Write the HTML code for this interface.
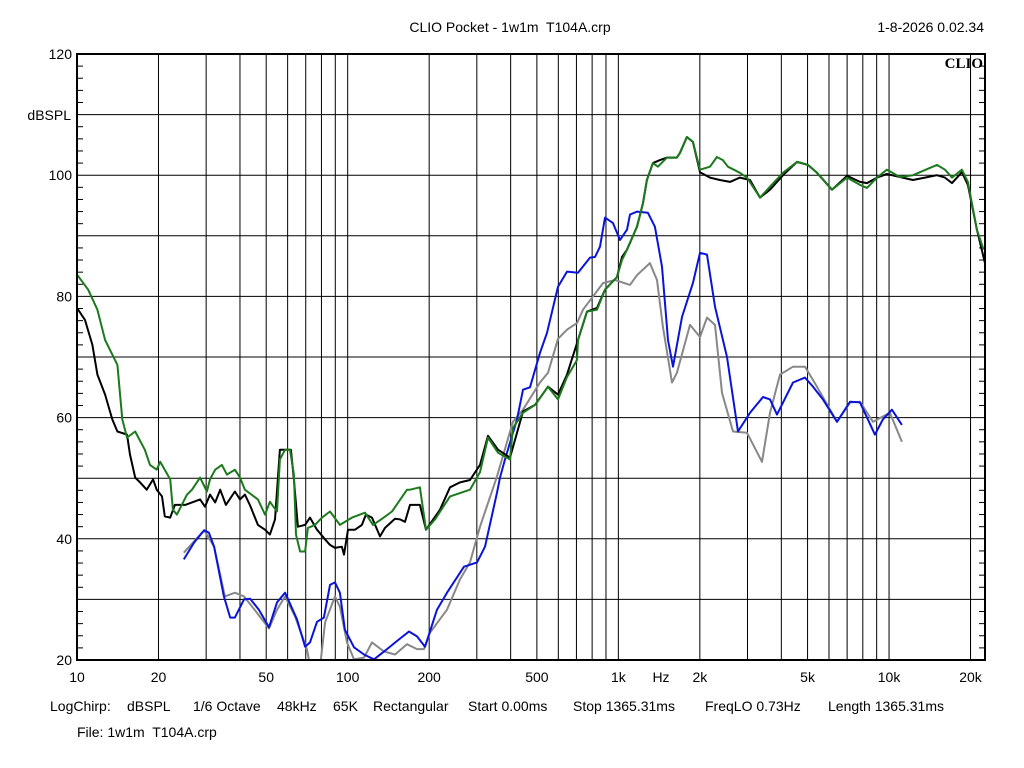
<!DOCTYPE html>
<html><head><meta charset="utf-8"><style>
html,body{margin:0;padding:0;background:#fff;}
svg{display:block;font-family:"Liberation Sans",Arial,sans-serif;}
</style></head><body>
<svg id="chart" width="1024" height="768" viewBox="0 0 1024 768" xmlns="http://www.w3.org/2000/svg">
<rect x="0" y="0" width="1024" height="768" fill="#fff"/>
<text x="510" y="32" font-size="14" text-anchor="middle" xml:space="preserve">CLIO Pocket - 1w1m  T104A.crp</text>
<text x="984" y="32" font-size="14" text-anchor="end">1-8-2026 0.02.34</text>
<g id="grid"></g>
<g id="series" clip-path="url(#plotclip)"></g>
<defs><clipPath id="plotclip"><rect x="77" y="54" width="908" height="606"/></clipPath></defs>
<rect x="77" y="54" width="908" height="606" fill="none" stroke="#000" stroke-width="2"/>
<text x="983" y="68" font-size="15" font-weight="bold" text-anchor="end" font-family="Liberation Serif,serif">CLIO</text>
<text x="71" y="120" font-size="14" text-anchor="end">dBSPL</text>
<text x="661" y="682" font-size="14" text-anchor="middle">Hz</text>
<text y="711" font-size="14"><tspan x="50">LogChirp:</tspan><tspan x="127">dBSPL</tspan><tspan x="193">1/6 Octave</tspan><tspan x="277">48kHz</tspan><tspan x="333">65K</tspan><tspan x="373">Rectangular</tspan><tspan x="468">Start 0.00ms</tspan><tspan x="573">Stop 1365.31ms</tspan><tspan x="705">FreqLO 0.73Hz</tspan><tspan x="828">Length 1365.31ms</tspan></text>
<text x="77" y="737" font-size="14" xml:space="preserve">File: 1w1m  T104A.crp</text>
</svg>
<script>
const greenF=[10,11,11.9,12.7,13.5,14.1,14.7,15.3,16.4,17.8,18.6,19.7,20.3,22.1,22.6,23.4,25.5,26.6,28.5,30.2,31,32.4,34.3,35.8,38.3,40,41.7,46.6,49.5,51.6,54.8,56.2,58.7,61.2,63.3,64.4,66.7,69.6,71.3,75.7,80.4,86,93.6,103.7,115.9,124,133.9,145.8,165.6,169.9,184.9,194.7,210.2,238.8,283.1,308.3,329.9,359.2,397.8,407.9,444.3,491.9,549.6,598.4,645.9,703.4,709.5,765.6,833.6,892.4,988.1,1031,1076,1172,1233,1275,1342,1400,1512,1646,1689,1792,1886,2002,2180,2313,2434,2540,2813,2987,3336,3631,4057,4569,5016,5416,6153,6993,7808,8287,9023,9822,10970,12250,15030,16090,17080,18590,19560,21120,22230,22620];
const greenDB=[83.6,81.1,77.8,72.8,70.4,68.7,59.7,56.7,57.7,54.7,52.2,51.4,52.7,49.8,44.8,44,47.3,48.1,50.1,47.8,49.8,51.4,52.2,50.6,51.4,50.1,48.1,46.5,44,46.1,44.5,53.1,54.7,54.7,50.6,40.7,37.9,37.9,41.8,42.3,43.5,44.5,42.3,43.5,44.3,42.3,43.3,44.5,48.1,48.1,48.5,41.5,43.2,47,48.1,51,56.7,54.2,53.1,58.3,60.8,62.1,65.1,63,66.7,69.5,72.8,77.5,77.8,81.1,83.2,86,87.7,91.5,95.4,99.2,102,101.4,102.9,102.9,103.7,106.3,105.5,100.9,101.4,103,102.5,101.4,100.4,99.6,96.3,98.1,100.4,102.2,101.7,100.4,97.6,99.6,98.4,97.9,99.6,100.9,99.7,100,101.7,100.9,99.6,100.9,98.9,91,88,87.7];
const blackF=[10,10.7,11.4,11.9,12.7,13.5,14.1,15.3,15.7,16.4,17.1,18.1,19.1,19.7,20.6,21.1,22.1,23,25.1,28.5,29.7,31,32.4,33.8,35.5,38.3,40,41.7,43.6,46.6,49.5,51.6,53.9,56.2,61.7,63.3,65.5,69.6,72.6,77,82.5,86,89.8,95.2,96.9,100.3,106.4,112.9,116.8,123,131.6,137.4,149.6,156.1,162.8,169.9,184.9,194.7,219.3,238.8,260,283.1,308.3,329.9,359.2,397.8,444.3,491.9,549.6,598.4,645.9,709.5,765.6,833.6,892.4,988.1,1031,1076,1172,1233,1275,1342,1425,1512,1646,1689,1792,1886,2002,2180,2373,2584,2813,3064,3336,3631,4057,4569,5016,5416,6153,6993,7808,8287,9023,9822,10970,12250,13570,15030,16090,17080,18590,19560,21120,22620];
const blackDB=[78.1,76.1,72,67.1,63.8,59.7,57.7,57.2,53.9,50.1,49.3,48.1,49.8,48.1,47,43.7,43.5,45.6,45.6,46.5,45.3,47.3,46,48.1,45.6,47.8,46.5,47.3,45.5,42.3,41.5,40.7,43.2,54.7,54.7,49.8,42,42.3,43.5,41.5,39.9,39,38.5,38.7,37.4,41.5,41.5,42.3,44,43.5,40.4,41.8,43.3,43.2,42.8,45.6,45.6,41.5,44.8,48.5,49.3,49.7,52.2,57,54.7,53.4,61,62.1,65.1,63.8,67.1,72.8,77.5,78.1,81.1,83.2,86.5,87.7,91.5,95.4,99.2,102,102.5,102.9,102.9,103.7,106.3,105.5,100.5,99.6,99.2,98.9,99.6,99.2,96.3,97.6,100,102.2,101.7,100.4,97.6,99.9,98.9,98.7,99.6,100.2,99.7,99.2,99.6,100,99.6,98.7,100.5,98.4,91,85.5];
const blueF=[24.8,27.1,29.5,30.7,32.1,34.9,36.8,38.3,41.4,43.6,47,51.2,54.8,58.7,65,69.6,72.6,77,81.7,86,89.8,93.6,97.7,105.5,114.9,125.1,139.7,154.7,168.5,180.3,193,213.8,232.8,269,300.5,321.6,356.1,365.3,381.2,422.1,444.3,471.5,513.3,544.9,598.4,645.9,709.5,785.5,819.6,855.1,892.4,955.2,1014,1076,1104,1172,1286,1365,1449,1525,1591,1718,1886,2002,2125,2275,2519,2766,3064,3423,3631,3854,4416,4891,5235,5699,6421,7174,7808,8870,9493,10250,11160];
const blueDB=[36.6,39.4,41.4,41,38.7,30.5,27,27,30,30.1,28.3,25.4,29.5,31.1,26.7,22.2,22.9,26.3,27,32.4,32.8,31.1,25,22.1,20.9,20.1,21.8,23.4,24.7,23.9,22.2,28.3,31.1,35.4,36.1,38.7,47.6,50.1,53.1,59.7,64.6,65,70.7,74,81.6,84.1,83.9,86.4,86.5,88.2,93,92.1,89.3,91,93.5,94,93.8,91.5,84.9,72.8,68.4,76.6,82.2,87.2,86.9,78.3,70,57.7,60.8,63.4,63,60.5,65.8,66.6,65.1,63,59.3,62.6,62.5,57.2,59.7,61.3,58.8];
const grayF=[24.8,29.5,32.1,35.2,38.3,41.4,46.2,51.2,54.8,58.7,63.9,70.7,73,79,82.5,89.8,93.6,99.4,105.5,114.9,123,136.2,149.6,165.6,180.3,191.4,201.4,232.8,260,283.1,308.3,356.1,407.9,444.3,513.3,549.6,598.4,645.9,703.4,740.2,877.4,971.4,1104,1172,1308,1389,1461,1578,1646,1839,2002,2125,2275,2414,2651,2987,3394,3631,3954,4416,4891,5416,6421,7174,7808,8721,10076,11160];
const grayDB=[37.7,41.4,38.7,30.5,31.1,30.5,27.8,25.2,28.3,30.5,27.2,21.8,18.5,18.8,26.2,30.5,28.8,22.9,20.1,20.4,22.9,21.4,20.9,22.6,21.8,21.8,24.5,28.3,33.3,36.1,42,50.3,59.3,61.3,65.8,67.4,73,74.5,75.6,77.8,82.2,82.7,81.9,83.5,85.5,82.7,75,65.8,67.4,75.3,73.3,76.5,75.3,64.1,57.7,57.5,52.7,60.8,67.1,68.4,68.4,65.1,59.3,62.5,62.6,59.3,60.8,56];
const yTickLabels=["120","100","80","60","40","20"];
const xTickFreqs=[10,20,50,100,200,500,1000,2000,5000,10000,20000];
const xTickLabels=["10","20","50","100","200","500","1k","2k","5k","10k","20k"];

const NS="http://www.w3.org/2000/svg";
const L=77,T=54,W=908,H=606,fMin=10,fMax=22620,dMin=20,dMax=120;
function xs(f){return L+(Math.log10(f)-Math.log10(fMin))/(Math.log10(fMax)-Math.log10(fMin))*W;}
function ys(d){return T+(dMax-d)/(dMax-dMin)*H;}
function mk(tag,attrs,parent){const e=document.createElementNS(NS,tag);for(const k in attrs)e.setAttribute(k,attrs[k]);parent.appendChild(e);return e;}
const grid=document.getElementById('grid');
const svg=document.getElementById('chart');
for(let dec=10;dec<=10000;dec*=10){for(let m=1;m<=9;m++){const f=dec*m;if(f<=fMin||f>fMax)continue;const x=xs(f);
 const ln=mk('line',{x1:x,x2:x,y1:T,y2:T+H,stroke:'#000','stroke-width':1},grid);
 
 }}
{const x=xs(20000);const ln=mk('line',{x1:x,x2:x,y1:T,y2:T+H,stroke:'#000','stroke-width':1},grid);
 
 }
for(let d=30;d<120;d+=10){const y=ys(d);const ln=mk('line',{x1:L,x2:L+W,y1:y,y2:y,stroke:'#000','stroke-width':1},grid);
 
 }
for(let d=22;d<120;d+=2){if(d%10===0)continue;const y=ys(d);
 const t1=mk('line',{x1:L,x2:L+6,y1:y,y2:y,stroke:'#000','stroke-width':1},grid);
 
 
 const t2=mk('line',{x1:L+W-6,x2:L+W,y1:y,y2:y,stroke:'#000','stroke-width':1},grid);
 
 }
yTickLabels.forEach(s=>{const t=mk('text',{x:72,y:ys(+s)+5,'font-size':14,'text-anchor':'end'},svg);t.textContent=s;
 
 });
xTickFreqs.forEach((f,i)=>{const t=mk('text',{x:xs(f),y:682,'font-size':14,'text-anchor':'middle'},svg);t.textContent=xTickLabels[i];
 
 });
const series=document.getElementById('series');
function draw(F,D,color,name){const p=F.map((f,i)=>(i?'L':'M')+xs(f).toFixed(1)+','+ys(D[i]).toFixed(1)).join('');
 const e=mk('path',{d:p,fill:'none',stroke:color,'stroke-width':2,'stroke-linejoin':'round'},series);
 
 }
draw(grayF,grayDB,'#888888','gray-series');
draw(blueF,blueDB,'#0a14d8','blue-series');
draw(blackF,blackDB,'#000000','black-series');
draw(greenF,greenDB,'#1c7a1c','green-series');
</script>
</body></html>
